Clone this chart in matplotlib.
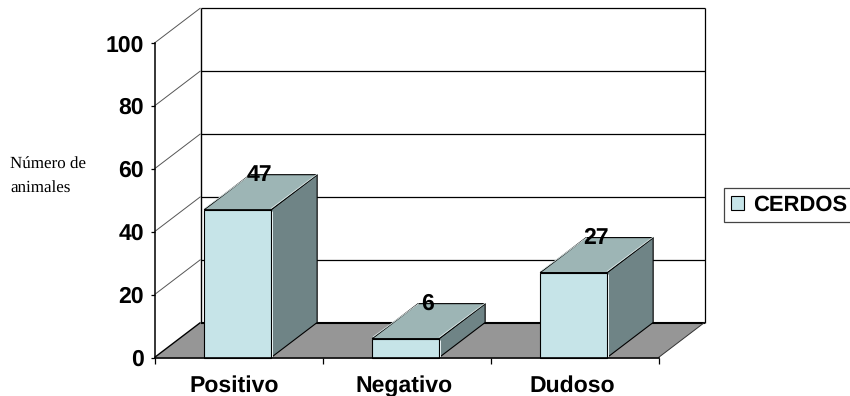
import matplotlib
matplotlib.use('Agg')
import matplotlib.pyplot as plt
from matplotlib.patches import Patch, Polygon

categorias = ['Positivo', 'Negativo', 'Dudoso']
valores = [47, 6, 27]
etiquetas = ['47', '6', '27']
ticks_y = [0, 20, 40, 60, 80, 100]
serie = 'CERDOS'

W, H = 850, 396
FRONT = '#C6E4E8'
TOP = '#9DB5B5'
SIDE = '#6F8486'
FLOOR = '#969696'

# depth of the 3D box, in data units
dx = 46 / 168
dy = 35 / 3.145
ancho = 67 / 168

plt.rcParams['font.family'] = ['Liberation Sans', 'DejaVu Sans']
plt.rcParams['text.hinting'] = 'no_hinting'
plt.rcParams['text.hinting_factor'] = 1
fig = plt.figure(figsize=(W / 100, H / 100), dpi=100)
ax = fig.add_axes([154.5 / W, 1 - 357.5 / H, 504 / W, 314.5 / H])
ax.set_xlim(-0.5, 2.5)
ax.set_ylim(0, 100)
x0, x1 = -0.5, 2.5


def poly(pts, fc, ec='black', lw=1.0, z=2):
    ax.add_patch(Polygon(pts, closed=True, fc=fc, ec=ec, lw=lw, zorder=z,
                         clip_on=False, joinstyle='miter'))


def linea(xs, ys, color='black', lw=1.0, z=1):
    ax.plot(xs, ys, color=color, lw=lw, zorder=z, clip_on=False,
            solid_capstyle='butt')


# back wall and side wall lines
for t in ticks_y[1:]:
    linea([x0, x0 + dx], [t, t + dy], color='#555555', lw=0.7)
    linea([x0 + dx, x1 + dx], [t + dy, t + dy], lw=0.9)
linea([x0 + dx, x0 + dx], [dy, 100 + dy], lw=1.0)
linea([x1 + dx, x1 + dx], [dy, 100 + dy], lw=0.9)

# floor
poly([(x0, 0), (x0 + dx, dy), (x1 + dx, dy), (x1, 0)], FLOOR, lw=0, z=1.5)
linea([x0 + dx, x1 + dx], [dy, dy], lw=1.5, z=1.6)
linea([x0, x0 + dx], [0, dy], lw=1.0, z=1.6)
linea([x1, x1 + dx], [0, dy], color='#333333', lw=0.7, z=1.6)

# bars, front, top and side faces
for i, v in enumerate(valores):
    l = i - ancho / 2 - 0.005
    r = i + ancho / 2 - 0.005
    poly([(r, 0), (r + dx, dy), (r + dx, v + dy), (r, v)], SIDE, lw=0.8, z=3)
    poly([(l, v), (l + dx, v + dy), (r + dx, v + dy), (r, v)], TOP, lw=0.8, z=3)
    poly([(l, 0), (l, v), (r, v), (r, 0)], FRONT, lw=0.8, z=4)
    # light bevel along the box edges
    linea([r + 0.004, r + 0.004], [0.3, v - 0.3], color='#E8F2F3', lw=0.7, z=4.5)
    linea([r, r + dx], [v + 0.4, v + dy + 0.2], color='#DCE8E8', lw=0.6, z=4.5)
    linea([l + 0.004, l + dx + 0.004], [v + 0.5, v + dy], color='#DCE8E8', lw=0.6, z=4.5)
    ax.text(i + 0.125, v + dy, etiquetas[i], ha='center', va='center',
            fontsize=16.5, fontweight='bold', color='black', zorder=6,
            clip_on=False)

# axes
for s in ['top', 'right']:
    ax.spines[s].set_visible(False)
ax.spines['left'].set_linewidth(1.1)
ax.spines['bottom'].set_linewidth(1.2)
ax.spines['left'].set_zorder(5)
ax.spines['bottom'].set_zorder(5)
ax.set_yticks(ticks_y)
ax.set_yticklabels([str(t) for t in ticks_y], fontsize=16.3, fontweight='bold')
ax.set_xticks([-0.5, 0.5, 1.5, 2.5])
ax.set_xticklabels([])
ax.set_xticks([-0.025, 0.985, 1.985], minor=True)
ax.set_xticklabels(categorias, minor=True, fontsize=16.3, fontweight='bold')
ax.tick_params(axis='x', which='minor', length=0, pad=13)
ax.tick_params(axis='x', which='major', length=4, width=0.9)
ax.tick_params(axis='y', length=3, width=0.9, pad=4.5)

fig.text(10 / W, 1 - 165 / H, 'Número de', family='Liberation Serif',
         fontsize=12.2, va='center', ha='left')
fig.text(10 / W, 1 - 188 / H, 'animales', family='Liberation Serif',
         fontsize=12.6, va='center', ha='left')

leg = fig.legend(handles=[Patch(fc=FRONT, ec='black', lw=0.8, label=serie)],
                 loc='upper left', bbox_to_anchor=(724 / W, 1 - 188 / H),
                 bbox_transform=fig.transFigure, borderaxespad=0,
                 fancybox=False, framealpha=1, edgecolor='#444444',
                 prop={'weight': 'bold', 'size': 16}, handlelength=0.62,
                 handleheight=0.62, handletextpad=0.4, borderpad=0.3)
leg.get_frame().set_linewidth(0.9)

fig.savefig('out.png', dpi=100)
